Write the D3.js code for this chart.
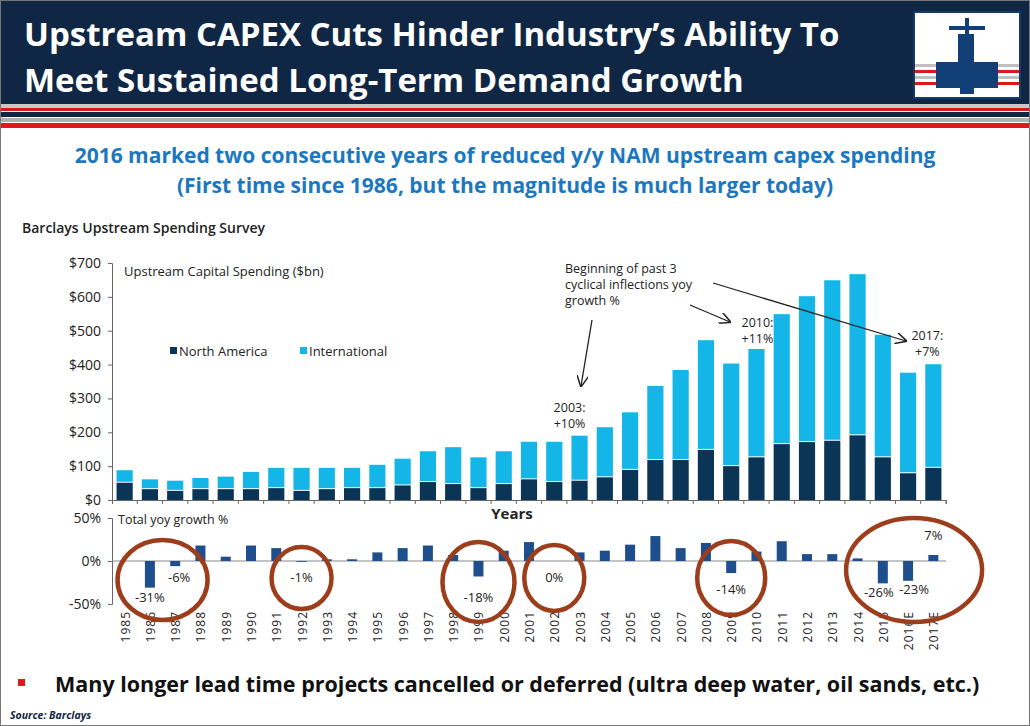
<!DOCTYPE html>
<html><head><meta charset="utf-8">
<script src="https://cdn.jsdelivr.net/npm/d3@7"></script>
<style>body{margin:0;background:#fff;font-family:"Open Sans",Calibri,sans-serif}</style>
</head><body><div id="chart"></div>
<script>
// Barclays survey values ($bn and %)
var years = ["1985","1986","1987","1988","1989","1990","1991","1992","1993","1994","1995","1996","1997","1998","1999","2000","2001","2002","2003","2004","2005","2006","2007","2008","2009","2010","2011","2012","2013","2014","2015","2016E","2017E"];
var northAmerica = [51,32,27,32,32,32,35,27,32,35,35,43,53,47,35,47,61,53,57,67,89,118,118,148,100,126,165,171,175,191,126,79,95];
var totalSpend = [88,61,57,65,69,83,95,95,95,95,104,122,144,156,126,144,172,172,190,215,259,337,384,472,403,446,549,602,649,667,488,376,401];
var yoyGrowth = [null,-31,-6,18,5,18,15,-1,2,2,10,15,18,7,-18,12,22,0,10,12,19,29,15,21,-14,11,23,8,8,3,-26,-23,7];
var spendTicks = [0,100,200,300,400,500,600,700];
var growthTicks = [-50,0,50];
// circled years and their labels
var circled = [
  {from:"1986", to:"1987", cy:580, rx:45, ry:40},
  {from:"1992", to:"1992", cy:578, rx:30, ry:31},
  {from:"1999", to:"1999", cy:582, rx:36, ry:40},
  {from:"2002", to:"2002", cy:578, rx:30, ry:33},
  {from:"2009", to:"2009", cy:578, rx:34, ry:37},
  {from:"2015", to:"2017E", cy:570, rx:68, ry:52}
];
var growthLabels = [
  {year:"1986", text:"-31%", y:602, dx:0}, {year:"1987", text:"-6%", y:582, dx:4},
  {year:"1992", text:"-1%", y:582, dx:0}, {year:"1999", text:"-18%", y:602, dx:0},
  {year:"2002", text:"0%", y:582, dx:0}, {year:"2009", text:"-14%", y:594, dx:0},
  {year:"2015", text:"-26%", y:597, dx:-4}, {year:"2016E", text:"-23%", y:594, dx:6},
  {year:"2017E", text:"7%", y:540, dx:0}
];

var W = 1030, H = 726;
var svg = d3.select("#chart").append("svg").attr("width", W).attr("height", H);

// header
svg.append("rect").attr("width", W).attr("height", 104).attr("fill", "#0f2744");
svg.append("text").attr("x", 24).attr("y", 46).attr("fill", "#fff")
  .attr("font-size", 33).attr("font-weight", "bold").text("Upstream CAPEX Cuts Hinder Industry’s Ability To");
svg.append("text").attr("x", 24).attr("y", 92).attr("fill", "#fff")
  .attr("font-size", 33).attr("font-weight", "bold").text("Meet Sustained Long-Term Demand Growth");
[[104,4,"#c8c8c8"],[108,3,"#d7191c"],[112,5,"#0f2744"],[118,4,"#b0b0b0"],[123,5,"#e3171b"]].forEach(function(s) {
  svg.append("rect").attr("x", 0).attr("y", s[0]).attr("width", W).attr("height", s[1]).attr("fill", s[2]);
});
// logo
var logo = svg.append("g").attr("transform", "translate(914,12)");
logo.append("rect").attr("width", 106).attr("height", 86).attr("fill", "#fff").attr("stroke", "#163a6a").attr("stroke-width", 2);
[[52,"#c0c0c0"],[58,"#d7191c"],[64,"#c0c0c0"],[70,"#d7191c"]].forEach(function(s) {
  logo.append("rect").attr("x", 1).attr("y", s[0]).attr("width", 104).attr("height", 3).attr("fill", s[1]);
});
logo.append("rect").attr("x", 22).attr("y", 50).attr("width", 62).attr("height", 26).attr("fill", "#133f77");
logo.append("rect").attr("x", 44).attr("y", 22).attr("width", 16).attr("height", 30).attr("fill", "#133f77");
logo.append("rect").attr("x", 46).attr("y", 74).attr("width", 14).attr("height", 8).attr("fill", "#133f77");
logo.append("rect").attr("x", 35).attr("y", 14).attr("width", 36).attr("height", 4).attr("fill", "#133f77");
logo.append("rect").attr("x", 51).attr("y", 6).attr("width", 4).attr("height", 18).attr("fill", "#133f77");

// subtitle
svg.append("text").attr("x", 505).attr("y", 163).attr("text-anchor", "middle").attr("fill", "#1b78c0")
  .attr("font-size", 21).attr("font-weight", "bold").text("2016 marked two consecutive years of reduced y/y NAM upstream capex spending");
svg.append("text").attr("x", 505).attr("y", 193).attr("text-anchor", "middle").attr("fill", "#1b78c0")
  .attr("font-size", 21).attr("font-weight", "bold").text("(First time since 1986, but the magnitude is much larger today)");
svg.append("text").attr("x", 22).attr("y", 233).attr("fill", "#222").attr("font-size", 14)
  .attr("font-weight", "600").text("Barclays Upstream Spending Survey");

// scales
var x = d3.scaleBand().domain(years).range([112, 946]).paddingInner(0.36).paddingOuter(0.18);
var y = d3.scaleLinear().domain([0, 700]).range([500, 263]);
var yg = d3.scaleLinear().domain([-50, 50]).range([604, 518]);
var cx = function(yr) { return x(yr) + x.bandwidth() / 2; };

// top chart
var ax = svg.append("g").attr("transform", "translate(112,0)")
  .call(d3.axisLeft(y).tickValues(spendTicks).tickSize(4).tickFormat(function(d) { return "$" + d; }));
ax.selectAll("text").attr("font-size", 14).attr("fill", "#222").attr("font-family", "Open Sans, sans-serif").attr("dx", -4);
ax.selectAll("line,path").attr("stroke", "#666");
var bx = svg.append("g").attr("transform", "translate(0,500)")
  .call(d3.axisBottom(x).tickSize(4).tickFormat(""));
bx.selectAll("line,path").attr("stroke", "#666");
bx.selectAll(".tick line").attr("transform", "translate(" + (x.step() / 2) + ",0)");

svg.selectAll(".intl").data(years).enter().append("rect")
  .attr("x", function(d) { return x(d); }).attr("width", x.bandwidth())
  .attr("y", function(d, i) { return y(totalSpend[i]); })
  .attr("height", function(d, i) { return y(northAmerica[i]) - y(totalSpend[i]) - 1; })
  .attr("fill", "#14b6e8");
svg.selectAll(".na").data(years).enter().append("rect")
  .attr("x", function(d) { return x(d); }).attr("width", x.bandwidth())
  .attr("y", function(d, i) { return y(northAmerica[i]); })
  .attr("height", function(d, i) { return y(0) - y(northAmerica[i]); })
  .attr("fill", "#0b3556");

svg.append("text").attr("x", 124).attr("y", 276).attr("font-size", 13).attr("fill", "#222").text("Upstream Capital Spending ($bn)");
svg.append("rect").attr("x", 170).attr("y", 347).attr("width", 7).attr("height", 7).attr("fill", "#0b3556");
svg.append("text").attr("x", 179).attr("y", 356).attr("font-size", 13).attr("fill", "#222").text("North America");
svg.append("rect").attr("x", 300).attr("y", 347).attr("width", 7).attr("height", 7).attr("fill", "#14b6e8");
svg.append("text").attr("x", 309).attr("y", 356).attr("font-size", 13).attr("fill", "#222").text("International");

// annotations
var note = svg.append("g").attr("font-size", 12.5).attr("fill", "#222");
["Beginning of past 3", "cyclical inflections yoy", "growth %"].forEach(function(t, i) {
  note.append("text").attr("x", 565).attr("y", 273 + i * 16).text(t);
});
svg.append("defs").append("marker").attr("id", "ah").attr("viewBox", "0 0 10 10").attr("refX", 9).attr("refY", 5)
  .attr("markerWidth", 9).attr("markerHeight", 9).attr("orient", "auto")
  .append("path").attr("d", "M0,0L10,5L0,10").attr("fill", "none").attr("stroke", "#222").attr("stroke-width", 1.3);
[[592,320,581,386],[690,305,730,322],[713,283,906,341]].forEach(function(a) {
  svg.append("line").attr("x1", a[0]).attr("y1", a[1]).attr("x2", a[2]).attr("y2", a[3])
    .attr("stroke", "#222").attr("stroke-width", 1.3).attr("marker-end", "url(#ah)");
});
[["2003",-10,412],["2010",1,327],["2017E",-6,340]].forEach(function(a) {
  var lab = a[0].slice(0, 4);
  var pct = {"2003":"+10%","2010":"+11%","2017":"+7%"}[lab];
  note.append("text").attr("x", cx(a[0]) + a[1]).attr("y", a[2]).attr("text-anchor", "middle").text(lab + ":");
  note.append("text").attr("x", cx(a[0]) + a[1]).attr("y", a[2] + 16).attr("text-anchor", "middle").text(pct);
});
svg.append("text").attr("x", 512).attr("y", 519).attr("text-anchor", "middle").attr("font-size", 15)
  .attr("font-weight", "bold").attr("fill", "#222").text("Years");

// growth chart
var gy = svg.append("g").attr("transform", "translate(112,0)")
  .call(d3.axisLeft(yg).tickValues(growthTicks).tickSize(4).tickFormat(function(d) { return d + "%"; }));
gy.selectAll("text").attr("font-size", 14).attr("fill", "#222").attr("font-family", "Open Sans, sans-serif").attr("dx", -4);
gy.selectAll("line,path").attr("stroke", "#666");
svg.append("line").attr("x1", 112).attr("x2", 946).attr("y1", yg(0)).attr("y2", yg(0)).attr("stroke", "#888");
svg.append("text").attr("x", 118).attr("y", 524).attr("font-size", 12.5).attr("fill", "#222").text("Total yoy growth %");
svg.selectAll(".gb").data(years).enter().append("rect")
  .filter(function(d, i) { return yoyGrowth[i] !== null; })
  .attr("x", function(d) { return cx(d) - 5; }).attr("width", 10)
  .attr("y", function(d) { var v = yoyGrowth[years.indexOf(d)]; return yg(Math.max(0, v)); })
  .attr("height", function(d) { var v = yoyGrowth[years.indexOf(d)]; return Math.abs(yg(v) - yg(0)); })
  .attr("fill", "#1f4e8c");
years.forEach(function(d) {
  svg.append("text").attr("transform", "translate(" + (cx(d) + 5) + ",611) rotate(-90)")
    .attr("text-anchor", "end").attr("font-size", 12).attr("letter-spacing", 1).attr("fill", "#222").text(d);
});
circled.forEach(function(c) {
  svg.append("ellipse").attr("cx", (cx(c.from) + cx(c.to)) / 2 + (c.from === "2015" ? 6 : 0)).attr("cy", c.cy)
    .attr("rx", c.rx).attr("ry", c.ry).attr("fill", "none").attr("stroke", "#9c3d1c").attr("stroke-width", 4.5);
});
growthLabels.forEach(function(l) {
  svg.append("text").attr("x", cx(l.year) + l.dx).attr("y", l.y).attr("text-anchor", "middle")
    .attr("font-size", 13).attr("fill", "#222").text(l.text);
});

// footer
svg.append("rect").attr("x", 18).attr("y", 679).attr("width", 7).attr("height", 7).attr("fill", "#e3171b");
svg.append("text").attr("x", 55).attr("y", 692).attr("font-size", 21.5).attr("font-weight", "bold").attr("fill", "#111")
  .text("Many longer lead time projects cancelled or deferred (ultra deep water, oil sands, etc.)");
svg.append("text").attr("x", 10).attr("y", 719).attr("font-size", 10.5).attr("font-weight", "bold").attr("font-style", "italic")
  .attr("fill", "#0f2744").text("Source: Barclays");
svg.append("rect").attr("x", 0.5).attr("y", 0.5).attr("width", W - 1).attr("height", H - 1).attr("fill", "none").attr("stroke", "#777");
</script></body></html>
